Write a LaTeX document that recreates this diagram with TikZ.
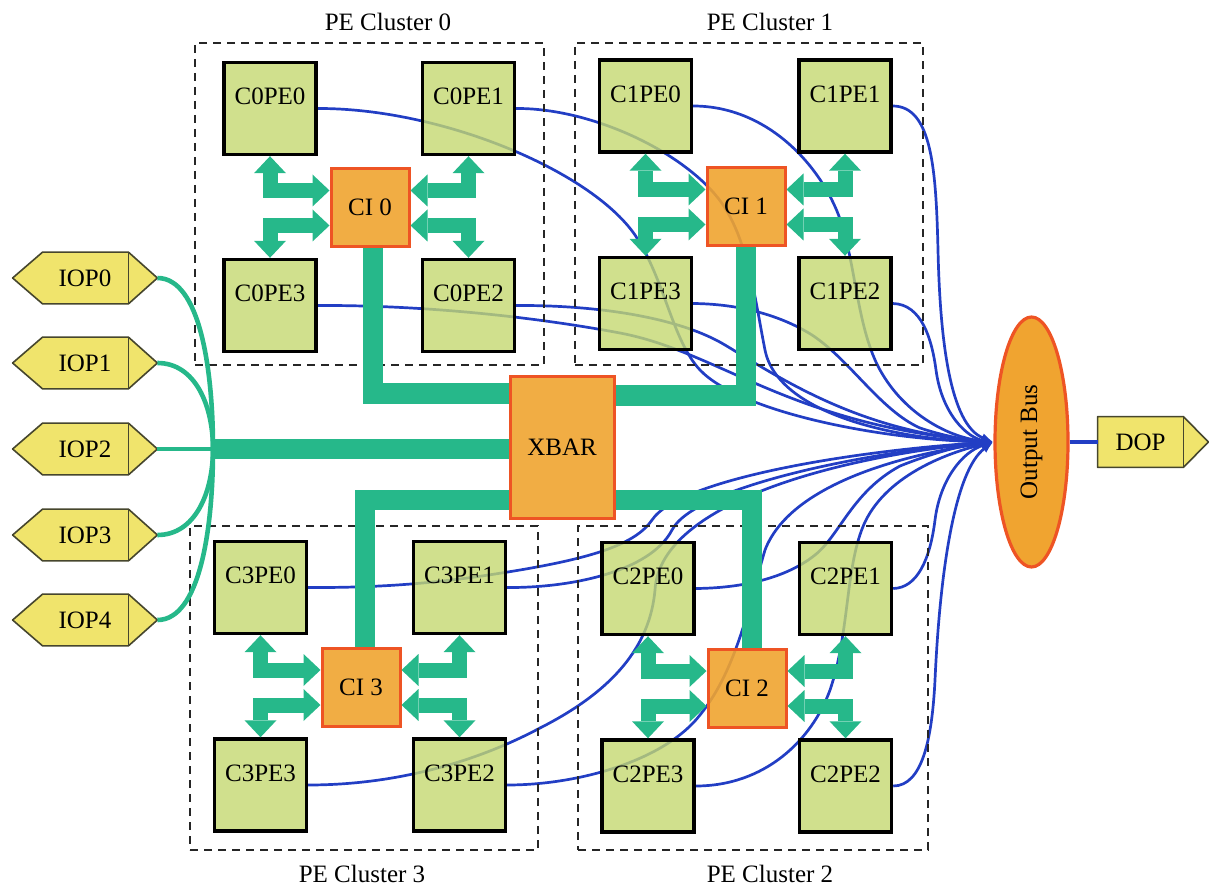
\documentclass[tikz,border=0pt]{standalone}
\usepackage{fontspec}
\setmainfont{Liberation Serif}
\usetikzlibrary{arrows.meta,calc,shapes.geometric}
\pgfdeclarelayer{back}
\pgfsetlayers{back,main}
\definecolor{pefill}{RGB}{196,216,112}
\definecolor{cifill}{RGB}{240,164,48}
\definecolor{ciborder}{RGB}{238,84,36}
\definecolor{linkgreen}{RGB}{38,184,138}
\definecolor{wireblue}{RGB}{34,62,196}
\definecolor{iofill}{RGB}{240,228,108}
\definecolor{ioborder}{RGB}{70,70,45}
\tikzset{
  pe/.style={draw=black, line width=1.7pt, fill=pefill, fill opacity=0.8,
    minimum width=46pt, minimum height=46pt, inner sep=0pt},
  petext/.style={inner sep=0pt},
  ci/.style={draw=ciborder, line width=1.5pt, fill=cifill, fill opacity=0.9,
    text opacity=1, minimum width=39pt, minimum height=39pt, inner sep=0pt},
  cluster/.style={draw=black!85, line width=1.2pt, dash pattern=on 4pt off 3pt, inner sep=0pt},
  cltext/.style={inner sep=0pt},
  wire/.style={draw=wireblue, line width=1.35pt, -{Latex[length=6pt,width=4.5pt]}},
  busline/.style={draw=linkgreen, line width=10pt},
  link/.style={draw=linkgreen, line width=7.5pt,
    {Triangle[width=16pt,length=8.5pt,line width=0pt]}-{Triangle[width=16pt,length=8.5pt,line width=0pt]}},
  ioline/.style={draw=linkgreen, line width=2.3pt},
  iobox/.style={inner sep=0pt, minimum width=72pt, minimum height=25.5pt},
  ioshape/.style={fill=iofill, draw=ioborder, line width=0.8pt, line join=round},
}
\newcommand\penode[3]{%
  \node[pe] (#1) at (#2) {};
  \node[petext] (#1t) at ($(#1)+(0,-12)$) {#3};}
\newcommand\cilinks[5]{% CI, upper-left, upper-right, lower-right, lower-left
  \draw[link] (#2.south) |- ($(#1.west)+(0,-17)$);
  \draw[link] ($(#1.west)+(0,18)$) -| (#5.north);
  \draw[link] (#3.south) |- ($(#1.east)+(0,-17)$);
  \draw[link] ($(#1.east)+(0,18)$) -| (#4.north);}
\newcommand\iopoutline[1]{%
  \path[ioshape] (#1.west) -- ($(#1.north west)+(30,0)$) -- ($(#1.north east)+(-29,0)$)
    -- (#1.east) -- ($(#1.south east)+(-29,0)$) -- ($(#1.south west)+(30,0)$) -- cycle;
  \draw[ioshape, fill=none] ($(#1.north east)+(-29,0)$) -- ($(#1.south east)+(-29,0)$);}
\begin{document}
\begin{tikzpicture}[x=0.5pt, y=-0.5pt, font=\fontsize{12.5}{14}\selectfont]
\useasboundingbox (0,0) rectangle (1209,887);

% cluster frames and titles
\node[cluster, minimum width=174.5pt, minimum height=161pt] (cl0) at (369.5,204) {};
\node[cluster, minimum width=174pt, minimum height=161pt] (cl1) at (749,204) {};
\node[cluster, minimum width=174pt, minimum height=162pt] (cl3) at (364,688) {};
\node[cluster, minimum width=175pt, minimum height=162pt] (cl2) at (753,688) {};
\node[cltext] (cl0t) at (388,22) {PE Cluster 0};
\node[cltext] (cl1t) at (770,22) {PE Cluster 1};
\node[cltext] (cl3t) at (362,874) {PE Cluster 3};
\node[cltext] (cl2t) at (770,874) {PE Cluster 2};

% processing elements
\penode{c0pe0}{270,108.5}{C0PE0}
\penode{c0pe1}{468.5,108.5}{C0PE1}
\penode{c0pe3}{270,305.5}{C0PE3}
\penode{c0pe2}{468.5,305.5}{C0PE2}
\penode{c1pe0}{645.5,106}{C1PE0}
\penode{c1pe1}{845,106}{C1PE1}
\penode{c1pe3}{645.5,303.5}{C1PE3}
\penode{c1pe2}{845,303.5}{C1PE2}
\penode{c3pe0}{260.5,587.5}{C3PE0}
\penode{c3pe1}{459.5,587.5}{C3PE1}
\penode{c3pe3}{260.5,785}{C3PE3}
\penode{c3pe2}{459.5,785}{C3PE2}
\penode{c2pe0}{648,588.5}{C2PE0}
\penode{c2pe1}{845.5,588.5}{C2PE1}
\penode{c2pe3}{648,786}{C2PE3}
\penode{c2pe2}{845.5,786}{C2PE2}

% cluster interconnects and crossbar
\node[ci] (ci0) at (370,207.5) {CI 0};
\node[ci] (ci1) at (746,206.5) {CI 1};
\node[ci] (ci3) at (361,687) {CI 3};
\node[ci] (ci2) at (747,688) {CI 2};
\node[ci, minimum width=52pt, minimum height=70.5pt] (xbar) at (562,447.5) {XBAR};

% output bus and data output port
\node[ellipse, draw=ciborder, line width=1.6pt, fill=cifill, minimum width=36.5pt,
  minimum height=125pt, inner sep=0pt] (bus) at (1031.5,442) {};
\node[rotate=90, inner sep=0pt] (bustext) at (bus.center) {Output Bus};
\node[inner sep=0pt, minimum width=42.5pt, minimum height=25pt] (dop) at (1140.5,442) {DOP};

% input ports
\node[iobox] (iop0) at (85,278) {IOP0};
\node[iobox] (iop1) at (85,363) {IOP1};
\node[iobox] (iop2) at (85,449) {IOP2};
\node[iobox] (iop3) at (85,535) {IOP3};
\node[iobox] (iop4) at (85,620) {IOP4};
\coordinate (join) at (213,449);

% CI <-> PE links
\cilinks{ci0}{c0pe0}{c0pe1}{c0pe2}{c0pe3}
\cilinks{ci1}{c1pe0}{c1pe1}{c1pe2}{c1pe3}
\cilinks{ci3}{c3pe0}{c3pe1}{c3pe2}{c3pe3}
\cilinks{ci2}{c2pe0}{c2pe1}{c2pe2}{c2pe3}

% CI <-> XBAR buses
\draw[busline] ([xshift=1.5pt]ci0.south) |- ($(xbar.west)+(0,-54)$);
\draw[busline] (ci1.south) |- ($(xbar.east)+(0,-52)$);
\draw[busline] ([xshift=2pt]ci3.north) |- ($(xbar.west)+(0,52)$);
\draw[busline] ([xshift=2.5pt]ci2.north) |- ($(xbar.east)+(0,52)$);

% input port links
\draw[ioline] (iop0.east) .. controls (200,278) and (213,370) .. (join);
\draw[ioline] (iop1.east) .. controls (195,363) and (213,405) .. (join);
\draw[ioline] (iop2.east) -- (join);
\draw[ioline] (iop3.east) .. controls (195,535) and (213,493) .. (join);
\draw[ioline] (iop4.east) .. controls (200,620) and (213,528) .. (join);
\draw[busline] (join) -- (xbar.west |- join);

\begin{pgfonlayer}{back}
  \iopoutline{iop0}
  \iopoutline{iop1}
  \iopoutline{iop2}
  \iopoutline{iop3}
  \iopoutline{iop4}
  \path[ioshape] (dop.north west) -- (dop.north east) -- ($(dop.east)+(25,0)$)
    -- (dop.south east) -- (dop.south west) -- cycle;
  \draw[ioshape, fill=none] (dop.north east) -- (dop.south east);
  \draw[wireblue, line width=1.6pt] (bus.east) -- (dop.west);

  % PE result wires into the output bus
  \draw[wire] (c0pe0.east) .. controls (440,108) and (590,170) .. (635,235)
    .. controls (665,280) and (672,340) .. (700,370)
    .. controls (740,412) and (880,440) .. (bus.west);
  \draw[wire] (c0pe1.east) .. controls (590,108) and (680,150) .. (718,198)
    .. controls (748,236) and (755,300) .. (765,350)
    .. controls (778,415) and (900,440) .. (bus.west);
  \draw[wire] (c1pe0.east) .. controls (770,106) and (825,170) .. (842,225)
    .. controls (856,270) and (858,330) .. (880,370)
    .. controls (905,415) and (950,438) .. (bus.west);
  \draw[wire] (c1pe1.east) .. controls (932,106) and (936,170) .. (938,250)
    .. controls (940,340) and (950,425) .. (bus.west);
  \draw[wire] (c0pe3.east) .. controls (430,305) and (540,318) .. (620,333)
    .. controls (720,352) and (790,425) .. (bus.west);
  \draw[wire] (c0pe2.east) .. controls (600,305) and (680,318) .. (725,345)
    .. controls (780,378) and (860,432) .. (bus.west);
  \draw[wire] (c1pe3.east) .. controls (745,304) and (785,318) .. (812,335)
    .. controls (850,360) and (880,410) .. (920,428)
    .. controls (950,438) and (975,441) .. (bus.west);
  \draw[wire] (c1pe2.east) .. controls (922,304) and (932,340) .. (936,370)
    .. controls (942,415) and (968,438) .. (bus.west);
  \draw[wire] (c3pe0.east) .. controls (400,588) and (460,580) .. (520,570)
    .. controls (590,558) and (635,545) .. (652,520)
    .. controls (680,478) and (860,450) .. (bus.west);
  \draw[wire] (c3pe1.east) .. controls (570,588) and (650,572) .. (672,530)
    .. controls (695,485) and (880,450) .. (bus.west);
  \draw[wire] (c3pe3.east) .. controls (400,785) and (480,760) .. (540,728)
    .. controls (615,690) and (650,645) .. (655,590)
    .. controls (660,500) and (850,455) .. (bus.west);
  \draw[wire] (c3pe2.east) .. controls (580,785) and (665,760) .. (700,715)
    .. controls (738,668) and (750,600) .. (765,550)
    .. controls (790,485) and (900,455) .. (bus.west);
  \draw[wire] (c2pe0.east) .. controls (750,588) and (790,575) .. (815,555)
    .. controls (840,535) and (852,492) .. (900,466)
    .. controls (940,450) and (970,444) .. (bus.west);
  \draw[wire] (c2pe1.east) .. controls (917,588) and (930,560) .. (935,520)
    .. controls (940,480) and (962,452) .. (bus.west);
  \draw[wire] (c2pe3.east) .. controls (765,786) and (812,740) .. (830,690)
    .. controls (850,632) and (845,565) .. (865,522)
    .. controls (888,474) and (950,452) .. (bus.west);
  \draw[wire] (c2pe2.east) .. controls (922,786) and (932,740) .. (935,680)
    .. controls (940,570) and (955,470) .. (bus.west);
\end{pgfonlayer}
\end{tikzpicture}
\end{document}
